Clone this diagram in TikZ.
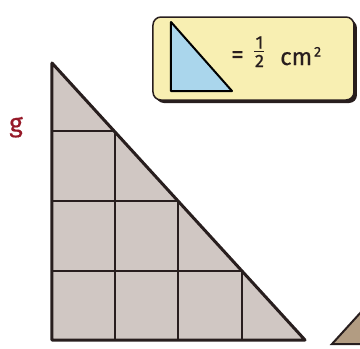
\documentclass[tikz,border=0pt]{standalone}
\usepackage{fontspec}
\setmainfont{Fira Sans}
\newfontfamily\heavyfont{Fira Sans}[FakeBold=0.6]
\usetikzlibrary{calc}
\definecolor{tilefill}{RGB}{208,199,195}
\definecolor{gridline}{RGB}{40,30,30}
\definecolor{legendfill}{RGB}{248,239,178}
\definecolor{legendblue}{RGB}{170,214,236}
\definecolor{labelred}{RGB}{150,25,40}
\definecolor{nextfill}{RGB}{178,156,130}

\begin{document}
\begin{tikzpicture}[x=1pt, y=-1pt, inner sep=0pt]
  \useasboundingbox (0,0) rectangle (360,349);
  \clip (0,0) rectangle (360,349);

  % Question label
  \node[text=labelred, font=\heavyfont\fontsize{26}{26}\selectfont, anchor=base] (qlabel) at (16,132) {g};

  % Legend box with shadow
  \fill[gridline, rounded corners=8pt] (156,20) rectangle (357,103);
  \draw[fill=legendfill, draw=gridline, line width=1.5pt, rounded corners=8pt] (153,17) rectangle (354,100);
  \draw[fill=legendblue, draw=black, line width=2pt, line join=round] (171,22) -- (171,91) -- (232,91) -- cycle;

  % Legend text: = 1/2 cm^2
  \node[font=\heavyfont\fontsize{25}{25}\selectfont, text=gridline] (eqsign) at (237.5,57) {=};
  \node[font=\heavyfont\fontsize{18}{18}\selectfont, text=gridline] (num) at (259.5,42.5) {1};
  \node[font=\heavyfont\fontsize{18}{18}\selectfont, text=gridline] (den) at (259.5,61) {2};
  \draw[gridline, line width=1.4pt] (254.5,51.5) -- (264.5,51.5);
  \node[font=\heavyfont\fontsize{24}{24}\selectfont, text=gridline, anchor=base west] (unit) at (280,65) {cm};
  \node[font=\heavyfont\fontsize{14}{14}\selectfont, text=gridline, anchor=base west] (power) at (unit.base east) [yshift=8.5pt, xshift=1.5pt] {2};

  % Big triangle
  \fill[tilefill] (52,63) -- (52,340) -- (305,340) -- cycle;
  \begin{scope}
    \clip (52,63) -- (52,340) -- (305,340) -- cycle;
    \foreach \yy in {131,201,271} {
      \draw[gridline, line width=2pt] (52,\yy) -- (305,\yy);
    }
    \foreach \xx in {115,178,242} {
      \draw[gridline, line width=2pt] (\xx,63) -- (\xx,340);
    }
  \end{scope}
  \draw[gridline, line width=3pt, line join=round] (52,63) -- (52,340) -- (305,340) -- cycle;

  % Next shape, cut off at the edge
  \draw[fill=nextfill, draw=gridline, line width=2pt] (332,344) -- (362,311) -- (362,344) -- cycle;

\end{tikzpicture}
\end{document}
